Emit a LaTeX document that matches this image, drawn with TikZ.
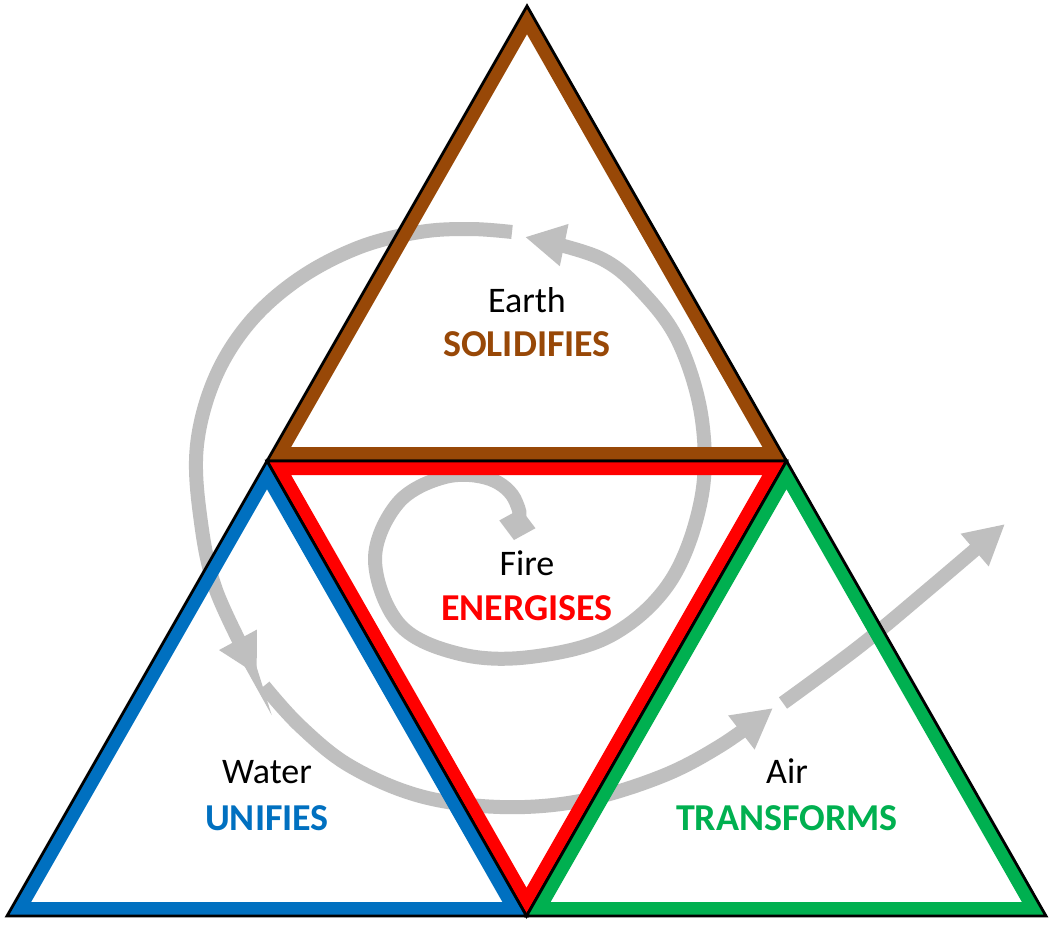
\documentclass[tikz,border=0pt]{standalone}
\usepackage{fontspec}
\setmainfont{Carlito}
\usetikzlibrary{arrows.meta}
\definecolor{ebrown}{RGB}{152,72,7}
\definecolor{ered}{RGB}{255,0,0}
\definecolor{eblue}{RGB}{0,112,192}
\definecolor{egreen}{RGB}{0,176,80}
\definecolor{egray}{RGB}{191,191,191}
\tikzset{
  band/.style={line width=28pt, line join=miter},
  rim/.style={draw=black, line width=2.8pt, line join=miter},
  spiral/.style={draw=egray, line width=14pt},
  tip/.style={-{Triangle[length=40pt,width=40pt]}},
  lab/.style={anchor=base, font=\fontsize{36}{43}\selectfont, inner sep=0pt},
  blab/.style={anchor=base, font=\fontsize{38}{45}\selectfont\bfseries, inner sep=0pt},
}
\begin{document}
\begin{tikzpicture}[x=1pt,y=-1pt]
\useasboundingbox (0,0) rectangle (1058,926);
\fill[white] (0,0) rectangle (1058,926);
\coordinate (A) at (527,6);
\coordinate (L) at (7,916);
\coordinate (R) at (1046,916);
\coordinate (ML) at (267,461);
\coordinate (MR) at (786.5,461);
\coordinate (MB) at (526.5,916);

% spiral
\draw[spiral, {Diamond[length=32pt,width=37pt]}-{Triangle[length=40pt,width=40pt]}]
  plot[smooth, tension=0.6] coordinates {(514,540) (516,502) (490,479) (445,477) (398,503) (375,560) (400,625) (460,654) (530,657) (610,636) (670,582) (701,500) (702,420) (680,345) (645,295) (600,258) (525,237)};
\draw[spiral, tip]
  plot[smooth, tension=0.6] coordinates {(512,232) (470,229) (420,232) (360,247) (300,278) (250,322) (215,378) (197,445) (200,515) (216,590) (257,675)};
\draw[spiral, tip]
  plot[smooth, tension=0.6] coordinates {(264,686) (300,726) (350,766) (420,796) (500,807) (580,801) (660,777) (720,746) (773,708)};
\draw[spiral, tip]
  plot[smooth, tension=0.6] coordinates {(783,703) (860,646) (930,588) (1005,524)};

% triangles
\begin{scope}
  \clip (A) -- (ML) -- (MR) -- cycle;
  \draw[band, ebrown] (A) -- (ML) -- (MR) -- cycle;
\end{scope}
\draw[rim] (A) -- (ML) -- (MR) -- cycle;
\begin{scope}
  \clip (ML) -- (MR) -- (MB) -- cycle;
  \draw[band, ered] (ML) -- (MR) -- (MB) -- cycle;
\end{scope}
\draw[rim] (ML) -- (MR) -- (MB) -- cycle;
\begin{scope}
  \clip (ML) -- (L) -- (MB) -- cycle;
  \draw[band, eblue] (ML) -- (L) -- (MB) -- cycle;
\end{scope}
\draw[rim] (ML) -- (L) -- (MB) -- cycle;
\begin{scope}
  \clip (MR) -- (MB) -- (R) -- cycle;
  \draw[band, egreen] (MR) -- (MB) -- (R) -- cycle;
\end{scope}
\draw[rim] (MR) -- (MB) -- (R) -- cycle;

% labels
\node[lab] (earth) at (527,312) {Earth};
\node[blab, text=ebrown] (solid) at (527,356) {SOLIDIFIES};
\node[lab] (fire) at (527,575) {Fire};
\node[blab, text=ered] (energ) at (527,620) {ENERGISES};
\node[lab] (water) at (267,783) {Water};
\node[blab, text=eblue] (unif) at (267,830) {UNIFIES};
\node[lab] (air) at (787,783) {Air};
\node[blab, text=egreen] (trans) at (787,830) {TRANSFORMS};
\end{tikzpicture}
\end{document}
